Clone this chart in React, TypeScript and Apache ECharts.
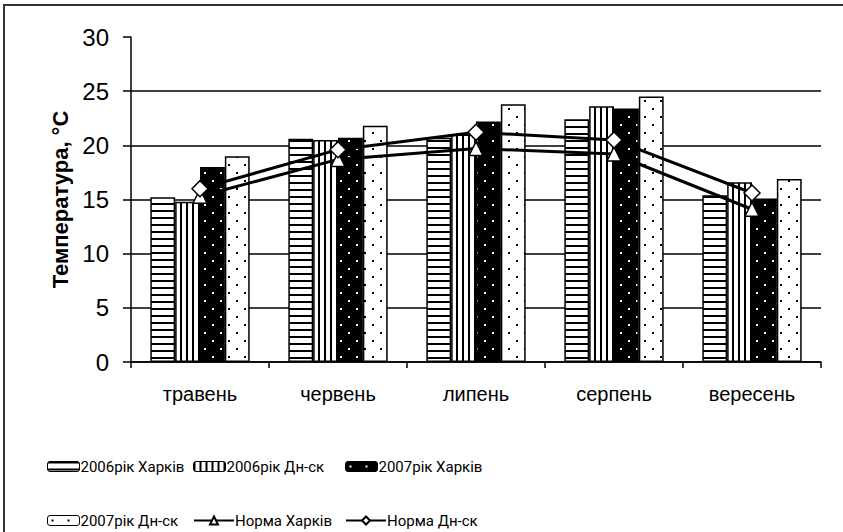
import React, { useEffect, useRef } from 'react';
import * as echarts from 'echarts';

const categories = ['травень', 'червень', 'липень', 'серпень', 'вересень'];
const kharkiv2006 = [15.2, 20.6, 20.7, 22.4, 15.4];
const dnipro2006 = [14.8, 20.5, 21.0, 23.6, 16.6];
const kharkiv2007 = [18.0, 20.7, 22.2, 23.4, 15.1];
const dnipro2007 = [19.0, 21.8, 23.8, 24.5, 16.9];
const normKharkiv = [15.3, 18.7, 19.7, 19.2, 14.1];
const normDnipro = [16.0, 19.6, 21.2, 20.5, 15.6];
const seriesNames = ['2006рік Харків', '2006рік Дн-ск', '2007рік Харків', '2007рік Дн-ск', 'Норма Харків', 'Норма Дн-ск'];
const yMin = 0;
const yMax = 30;
const yStep = 5;

const FONT = '"Liberation Sans", Arial, sans-serif';
const LEGEND_FONT = 'Roboto, "Liberation Sans", Arial, sans-serif';

function tile(w: number, h: number, draw: (ctx: CanvasRenderingContext2D) => void) {
  const c = document.createElement('canvas');
  c.width = w;
  c.height = h;
  const ctx = c.getContext('2d')!;
  draw(ctx);
  return { image: c, repeat: 'repeat' } as any;
}

export default function App() {
  const ref = useRef<HTMLDivElement>(null);
  useEffect(() => {
    const chart = echarts.init(ref.current!, null, { renderer: 'svg' });
    const hStripes = tile(4, 7, (ctx) => {
      ctx.fillStyle = '#fff'; ctx.fillRect(0, 0, 4, 7);
      ctx.fillStyle = '#000'; ctx.fillRect(0, 0, 4, 2);
    });
    const vStripes = tile(6, 4, (ctx) => {
      ctx.fillStyle = '#fff'; ctx.fillRect(0, 0, 6, 4);
      ctx.fillStyle = '#000'; ctx.fillRect(0, 0, 2, 4);
    });
    const darkDots = tile(16, 16, (ctx) => {
      ctx.fillStyle = '#000'; ctx.fillRect(0, 0, 16, 16);
      ctx.fillStyle = '#fff'; ctx.fillRect(4, 4, 2, 2); ctx.fillRect(12, 12, 2, 2);
    });
    const lightDots = tile(16, 16, (ctx) => {
      ctx.fillStyle = '#fff'; ctx.fillRect(0, 0, 16, 16);
      ctx.fillStyle = '#000'; ctx.fillRect(4, 4, 2, 2); ctx.fillRect(12, 12, 2, 2);
    });
    const fills = [hStripes, vStripes, darkDots, lightDots];
    const barData = [kharkiv2006, dnipro2006, kharkiv2007, dnipro2007];

    const barSeries = barData.map((d, i) => ({
      name: seriesNames[i],
      type: 'bar',
      data: d,
      barGap: '0%',
      barCategoryGap: '28%',
      itemStyle: { color: fills[i], borderColor: '#000', borderWidth: 1.5 },
    }));
    const lineSeries = [normKharkiv, normDnipro].map((d, i) => ({
      name: seriesNames[4 + i],
      type: 'line',
      data: d,
      symbol: i === 0 ? 'triangle' : 'diamond',
      symbolSize: i === 0 ? 14 : 16,
      lineStyle: { color: '#000', width: 3 },
      itemStyle: { color: '#fff', borderColor: '#000', borderWidth: 1.5 },
      z: 5,
    }));

    const legendPos = [
      [47, 459], [193, 459], [345, 459],
      [47, 513], [193, 513], [345, 513],
    ];
    const legends = seriesNames.map((n, i) => {
      const lg: any = {
        data: [n],
        left: legendPos[i][0],
        top: legendPos[i][1],
        itemWidth: i >= 4 ? 40 : 32,
        itemHeight: 10,
        itemGap: 0,
        padding: 0,
        selectedMode: false,
        textStyle: { fontFamily: LEGEND_FONT, fontSize: 15, color: '#000', padding: [0, 0, 0, -4] },
      };
      if (i < 4) lg.itemStyle = { borderWidth: 1 };
      return lg;
    });

    chart.setOption({
      animation: false,
      backgroundColor: '#fff',
      textStyle: { fontFamily: FONT },
      graphic: [
        {
          type: 'rect',
          silent: true,
          shape: { x: 4, y: 5, width: 900, height: 600 },
          style: { fill: 'none', stroke: '#333', lineWidth: 2 },
        },
      ],
      legend: legends,
      grid: { left: 131, right: 22, top: 37, bottom: 170, containLabel: false },
      xAxis: {
        type: 'category',
        data: categories,
        axisLine: { lineStyle: { color: '#000', width: 1.5 } },
        axisTick: { show: true, length: 6, lineStyle: { color: '#000', width: 1.5 } },
        axisLabel: { color: '#000', fontSize: 20, margin: 22, fontFamily: FONT },
      },
      yAxis: {
        type: 'value',
        min: yMin,
        max: yMax,
        interval: yStep,
        name: 'Температура, °С',
        nameLocation: 'middle',
        nameGap: 58,
        nameTextStyle: { fontFamily: FONT, fontSize: 22, fontWeight: 'bold', color: '#000' },
        axisLine: { show: true, lineStyle: { color: '#000', width: 1.5 } },
        axisTick: { show: true, length: 8, lineStyle: { color: '#000', width: 1.5 } },
        axisLabel: { color: '#000', fontSize: 24, margin: 22, fontFamily: FONT },
        splitLine: { show: true, showMaxLine: false, lineStyle: { color: '#000', width: 1.5 } },
      },
      series: [...barSeries, ...lineSeries],
    });
    return () => chart.dispose();
  }, []);
  return (
    <div
      ref={ref}
      style={{ position: 'fixed', left: 0, top: 0, width: 843, height: 532, background: '#fff' }}
    />
  );
}
